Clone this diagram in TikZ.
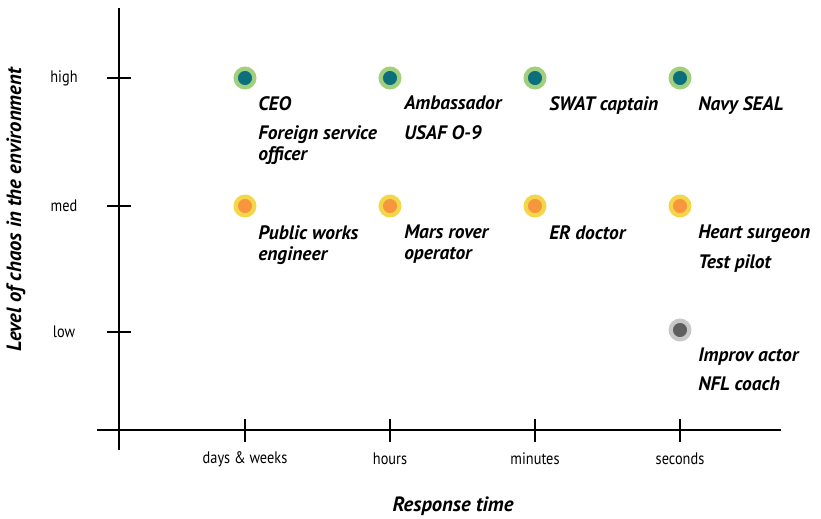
\documentclass[tikz,border=0pt]{standalone}
\usepackage{fontspec}
\setmainfont{PT Sans}
\newfontfamily\tickfont[FakeStretch=0.86]{PT Sans}
\usetikzlibrary{calc}
\definecolor{hiteal}{HTML}{0C6F7C}
\definecolor{higreen}{HTML}{A2CF7D}
\definecolor{medorange}{HTML}{F7963D}
\definecolor{medyellow}{HTML}{F4D64A}
\definecolor{lowgray}{HTML}{5F5F5F}
\definecolor{lowlight}{HTML}{C8C8C8}
\tikzstyle{dot} = [circle, inner sep=0pt, minimum size=14pt, line width=3.2pt]
\tikzstyle{hidot} = [dot, fill=hiteal, draw=higreen]
\tikzstyle{meddot} = [dot, fill=medorange, draw=medyellow]
\tikzstyle{lowdot} = [dot, fill=lowgray, draw=lowlight]
\tikzstyle{job} = [anchor=north west, align=left, inner sep=0pt,
    font=\fontsize{14.6}{15.8}\selectfont\bfseries\itshape]
\tikzstyle{ticklbl} = [inner sep=0pt, font=\tickfont\fontsize{12.5}{14}\selectfont]
\tikzstyle{axtitle} = [inner sep=0pt, font=\fontsize{15.5}{17}\selectfont\bfseries\itshape]

\begin{document}
\begin{tikzpicture}[x=0.75pt, y=-0.75pt]
\useasboundingbox (0,0) rectangle (821,518);
% axes
\coordinate (ytop) at (119,8);
\coordinate (ybot) at (119,450);
\coordinate (xleft) at (97,430);
\coordinate (xright) at (781,430);
\draw[line width=2pt] (ytop) -- (ybot);
\draw[line width=2pt] (xleft) -- (xright);
% ticks on the response axis
\foreach \x/\t [count=\i] in {245/days \& weeks, 390/hours, 535/minutes, 680/seconds} {
    \draw[line width=1.6pt] (\x,419) -- (\x,442);
    \node[ticklbl] (tx\i) at (\x,459) {\t};
}
% ticks on the chaos axis
\foreach \y/\t [count=\i] in {78/high, 206/med, 332/low} {
    \draw[line width=1.6pt] (107,\y) -- (131,\y);
    \node[ticklbl] (ty\i) at (64,\y) {\t};
}
\node[axtitle] (xtitle) at (453,506) {Response time};
\node[axtitle, rotate=90] (ytitle) at (16,210) {Level of chaos in the environment};

% high chaos
\node[hidot] (h1) at (245,78) {};
\node[hidot] (h2) at (390,78) {};
\node[hidot] (h3) at (535,78) {};
\node[hidot] (h4) at (680,78) {};
\node[job] (ceo) at (258,96) {CEO};
\node[job] (fso) at (258,125) {Foreign service\\officer};
\node[job] (amb) at (404,96) {Ambassador};
\node[job] (usaf) at (404,125) {USAF O-9};
\node[job] (swat) at (549,96) {SWAT captain};
\node[job] (seal) at (698,96) {Navy SEAL};

% medium chaos
\node[meddot] (m1) at (245,206) {};
\node[meddot] (m2) at (390,206) {};
\node[meddot] (m3) at (535,206) {};
\node[meddot] (m4) at (680,206) {};
\node[job] (pwe) at (258,225) {Public works\\engineer};
\node[job] (mars) at (404,225) {Mars rover\\operator};
\node[job] (erdoc) at (549,225) {ER doctor};
\node[job] (heart) at (698,225) {Heart surgeon};
\node[job] (pilot) at (698,254) {Test pilot};

% low chaos
\node[lowdot] (l4) at (680,330) {};
\node[job] (improv) at (698,348) {Improv actor};
\node[job] (nfl) at (698,377) {NFL coach};
\end{tikzpicture}
\end{document}
